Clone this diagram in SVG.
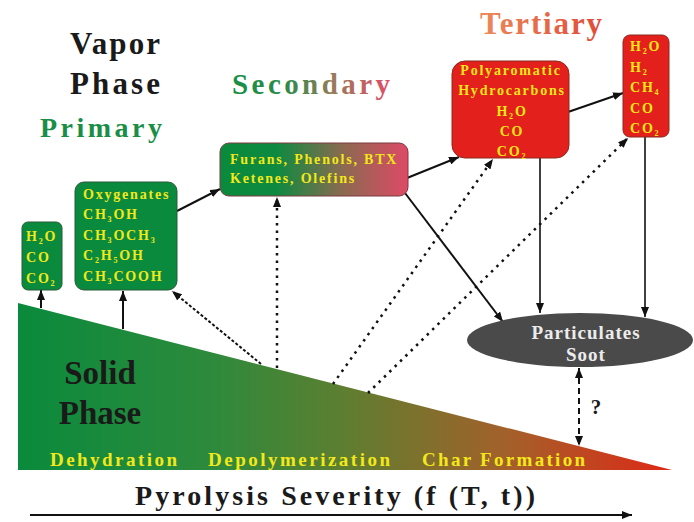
<svg xmlns="http://www.w3.org/2000/svg" width="694" height="522" viewBox="0 0 694 522">
<defs>
<linearGradient id="solidGrad" x1="18" y1="0" x2="672" y2="0" gradientUnits="userSpaceOnUse">
<stop offset="0" stop-color="#0a8a3c"/>
<stop offset="0.3" stop-color="#2e8a3c"/>
<stop offset="0.5" stop-color="#5e7e30"/>
<stop offset="0.75" stop-color="#a4602a"/>
<stop offset="1" stop-color="#de2816"/>
</linearGradient>
<linearGradient id="secGrad" x1="0" y1="0" x2="1" y2="0">
<stop offset="0" stop-color="#0a8a3c"/>
<stop offset="0.3" stop-color="#0d8a40"/>
<stop offset="0.65" stop-color="#8a6a50"/>
<stop offset="1" stop-color="#de4a66"/>
</linearGradient>
<linearGradient id="secTextGrad" x1="232" y1="0" x2="390" y2="0" gradientUnits="userSpaceOnUse">
<stop offset="0" stop-color="#1a8e46"/>
<stop offset="0.35" stop-color="#2f8a4a"/>
<stop offset="0.65" stop-color="#9a7a5a"/>
<stop offset="1" stop-color="#e04c68"/>
</linearGradient>
<linearGradient id="terTextGrad" x1="480" y1="0" x2="602" y2="0" gradientUnits="userSpaceOnUse">
<stop offset="0" stop-color="#ec8a5a"/>
<stop offset="1" stop-color="#e04a38"/>
</linearGradient>
<marker id="ah" viewBox="0 0 10 8" refX="10" refY="4" markerWidth="10" markerHeight="8" markerUnits="userSpaceOnUse" orient="auto-start-reverse">
<path d="M0,0 L10,4 L0,8 z" fill="#111"/>
</marker>
</defs>
<style>
text{font-family:'Liberation Serif','DejaVu Serif','Times New Roman',serif;font-weight:bold;}
.bx{font-size:14px;fill:#f2e81a;letter-spacing:1.8px;}
.sub{font-size:8px;}
.proc{font-size:19px;fill:#f2e81a;}
.green{fill:#0a8a3c;stroke:#2a5a3a;stroke-width:1;}
.red{fill:#e3201b;stroke:#8a2a20;stroke-width:1;}
.solid{stroke:#111;stroke-width:2;fill:none;marker-end:url(#ah);}
.thin{stroke:#111;stroke-width:1.6;fill:none;marker-end:url(#ah);}
.dot{stroke:#111;stroke-width:2.5;fill:none;stroke-dasharray:2.5 5;marker-end:url(#ah);}
.dashdot{stroke:#111;stroke-width:2;fill:none;stroke-dasharray:3 2;marker-end:url(#ah);}
.dash{stroke:#111;stroke-width:2;fill:none;stroke-dasharray:6 4;marker-start:url(#ah);marker-end:url(#ah);}
</style>
<rect width="694" height="522" fill="#ffffff"/>

<g id="solid-phase">
<path d="M18,303 L672,470 L18,470 Z" fill="url(#solidGrad)"/>
<text x="100" y="384" font-size="33" text-anchor="middle" fill="#1a1a1a">Solid</text>
<text x="100" y="424" font-size="33" text-anchor="middle" fill="#1a1a1a">Phase</text>
<text class="proc" x="50" y="466" textLength="127" lengthAdjust="spacing">Dehydration</text>
<text class="proc" x="208" y="466" textLength="182" lengthAdjust="spacing">Depolymerization</text>
<text class="proc" x="422" y="466" textLength="163" lengthAdjust="spacing">Char Formation</text>
</g>

<g id="titles">
<text x="70" y="54" font-size="31" fill="#1a1a1a" textLength="90" lengthAdjust="spacing">Vapor</text>
<text x="70" y="94" font-size="31" fill="#1a1a1a" textLength="90" lengthAdjust="spacing">Phase</text>
<text x="40" y="137" font-size="28" fill="#1a8e46" textLength="122" lengthAdjust="spacing">Primary</text>
<text x="232" y="94" font-size="29" fill="url(#secTextGrad)" textLength="158" lengthAdjust="spacing">Secondary</text>
<text x="480" y="34" font-size="31" fill="url(#terTextGrad)" textLength="122" lengthAdjust="spacing">Tertiary</text>
</g>

<g id="axis">
<text x="135" y="505" font-size="28" fill="#1a1a1a" textLength="400" lengthAdjust="spacing">Pyrolysis Severity (f (T, t))</text>
<line x1="30" y1="515" x2="632" y2="515" stroke="#111" stroke-width="2" marker-end="url(#ah)"/>
</g>

<g id="connectors">
<line class="solid" x1="41" y1="308" x2="41" y2="290"/>
<line class="solid" x1="123" y1="329" x2="123" y2="291"/>
<line class="dashdot" x1="261" y1="364" x2="172" y2="291"/>
<line class="solid" x1="177" y1="211" x2="220" y2="189"/>
<line class="dot" x1="277" y1="368" x2="277" y2="197"/>
<line class="solid" x1="407" y1="178" x2="459" y2="157"/>
<line class="solid" x1="405" y1="193" x2="503" y2="322"/>
<line class="dot" x1="333" y1="384" x2="493" y2="159"/>
<line class="dot" x1="368" y1="393" x2="628" y2="138"/>
<line class="thin" x1="540" y1="158" x2="540" y2="313"/>
<line class="thin" x1="645" y1="137" x2="645" y2="317"/>
<line class="solid" x1="568" y1="112" x2="623" y2="93"/>
<line class="dash" x1="579" y1="368" x2="579" y2="446"/>
<text x="596" y="414" font-size="21" text-anchor="middle" fill="#1a1a1a">?</text>
</g>

<g id="primary-gases">
<rect class="green" x="22" y="222" width="40" height="68" rx="6"/>
<text class="bx" x="26" y="241">H<tspan class="sub" dy="3">2</tspan><tspan dy="-3">O</tspan></text>
<text class="bx" x="26" y="262">CO</text>
<text class="bx" x="26" y="283">CO<tspan class="sub" dy="3">2</tspan></text>
</g>

<g id="oxygenates">
<rect class="green" x="75" y="182" width="102" height="108" rx="9"/>
<text class="bx" x="83" y="199">Oxygenates</text>
<text class="bx" x="83" y="219">CH<tspan class="sub" dy="3">3</tspan><tspan dy="-3">OH</tspan></text>
<text class="bx" x="83" y="240">CH<tspan class="sub" dy="3">3</tspan><tspan dy="-3">OCH</tspan><tspan class="sub" dy="3">3</tspan></text>
<text class="bx" x="83" y="260">C<tspan class="sub" dy="3">2</tspan><tspan dy="-3">H</tspan><tspan class="sub" dy="3">5</tspan><tspan dy="-3">OH</tspan></text>
<text class="bx" x="83" y="281">CH<tspan class="sub" dy="3">3</tspan><tspan dy="-3">COOH</tspan></text>
</g>

<g id="secondary">
<rect x="220" y="143" width="188" height="53" rx="9" fill="url(#secGrad)" stroke="#7a3a40" stroke-width="1"/>
<text class="bx" x="230" y="164">Furans, Phenols, BTX</text>
<text class="bx" x="230" y="183">Ketenes, Olefins</text>
</g>

<g id="polyaromatic">
<rect class="red" x="452" y="61" width="117" height="97" rx="13"/>
<text class="bx" x="511" y="75" text-anchor="middle">Polyaromatic</text>
<text class="bx" x="512" y="95" text-anchor="middle">Hydrocarbons</text>
<text class="bx" x="512" y="116" text-anchor="middle">H<tspan class="sub" dy="3">2</tspan><tspan dy="-3">O</tspan></text>
<text class="bx" x="512" y="136" text-anchor="middle">CO</text>
<text class="bx" x="512" y="156" text-anchor="middle">CO<tspan class="sub" dy="3">2</tspan></text>
</g>

<g id="tertiary-gases">
<rect class="red" x="623" y="35" width="46" height="102" rx="7"/>
<text class="bx" x="630" y="51">H<tspan class="sub" dy="3">2</tspan><tspan dy="-3">O</tspan></text>
<text class="bx" x="630" y="72">H<tspan class="sub" dy="3">2</tspan></text>
<text class="bx" x="630" y="92">CH<tspan class="sub" dy="3">4</tspan></text>
<text class="bx" x="630" y="113">CO</text>
<text class="bx" x="630" y="133">CO<tspan class="sub" dy="3">2</tspan></text>
</g>

<g id="particulates">
<ellipse cx="580" cy="340" rx="113" ry="27" fill="#4a4a4a"/>
<text x="586" y="339" font-size="19" text-anchor="middle" fill="#ececec" letter-spacing="1">Particulates</text>
<text x="586" y="361" font-size="19" text-anchor="middle" fill="#ececec" letter-spacing="1">Soot</text>
</g>
</svg>
